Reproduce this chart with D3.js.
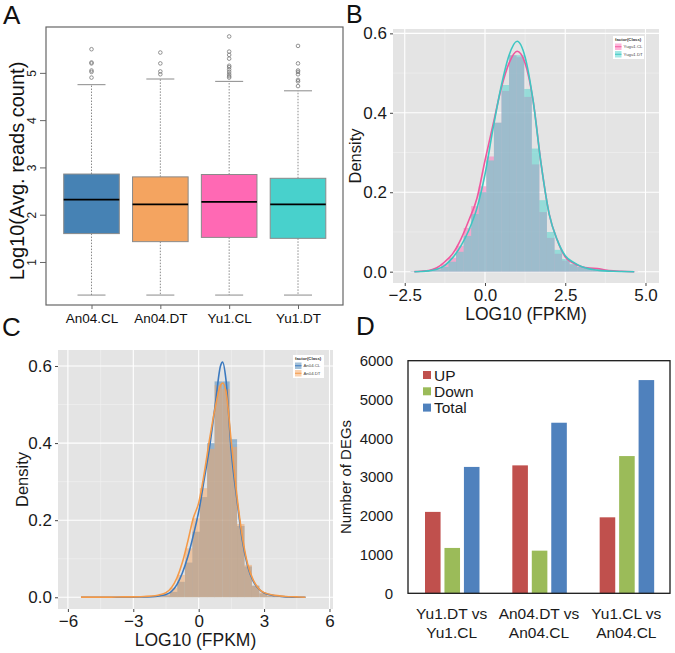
<!DOCTYPE html>
<html><head><meta charset="utf-8">
<script src="https://cdn.jsdelivr.net/npm/d3@7"></script>
<style>body{margin:0;background:#fff;} svg{display:block;font-family:Arial,"Liberation Sans",sans-serif;}</style>
</head><body><svg id="c" width="675" height="653"></svg>
<script>
// ---------- Panel A data (boxplot) ----------
const boxCategories = ["An04.CL","An04.DT","Yu1.CL","Yu1.DT"];
const boxLower  = [0.30, 0.30, 0.30, 0.30];
const boxQ1     = [1.60, 1.43, 1.52, 1.50];
const boxMedian = [2.32, 2.22, 2.27, 2.22];
const boxQ3     = [2.86, 2.80, 2.85, 2.77];
const boxUpper  = [4.75, 4.87, 4.82, 4.62];
const boxOutliers = [
  [4.90, 5.02, 5.05, 5.20, 5.22, 5.50],
  [4.97, 5.03, 5.20, 5.43],
  [4.90, 4.93, 4.97, 5.02, 5.07, 5.12, 5.15, 5.30, 5.38, 5.45, 5.77],
  [4.72, 4.82, 4.85, 4.97, 5.02, 5.05, 5.20, 5.57]
];
const boxTicks = [1, 2, 3, 4, 5];

// ---------- Panel B data (Yugu1 density) ----------
const bSeries = ["Yugu1.CL", "Yugu1.DT"];
const bBinWidth = 0.236;
const bBinCenters = [-2.2,-1.964,-1.728,-1.492,-1.256,-1.02,-0.784,-0.548,-0.312,-0.076,0.16,0.396,0.632,0.868,1.104,1.34,1.576,1.812,2.048,2.284,2.52,2.756,2.992,3.228,3.464,3.7,3.936,4.172,4.408,4.644];
const bHistCL = [0.001,0.002,0.003,0.008,0.02,0.035,0.065,0.11,0.165,0.215,0.29,0.375,0.455,0.545,0.54,0.44,0.27,0.15,0.085,0.045,0.028,0.018,0.012,0.009,0.008,0.004,0.002,0.001,0.001,0.0005];
const bHistDT = [0.001,0.001,0.002,0.005,0.012,0.025,0.05,0.09,0.145,0.2,0.28,0.375,0.47,0.545,0.545,0.46,0.31,0.18,0.1,0.055,0.032,0.02,0.012,0.007,0.004,0.003,0.002,0.001,0.0005,0.0003];
const bCurveX  = [-2.2,-2.0,-1.75,-1.5,-1.25,-1.0,-0.75,-0.5,-0.25,0,0.25,0.5,0.75,1.0,1.25,1.5,1.75,2.0,2.25,2.5,2.75,3.0,3.25,3.5,3.75,4.0,4.25,4.65];
const bCurveCL = [0,0.001,0.003,0.01,0.025,0.046,0.082,0.13,0.185,0.28,0.37,0.46,0.525,0.555,0.525,0.43,0.27,0.145,0.08,0.037,0.022,0.013,0.009,0.008,0.004,0.002,0.001,0];
const bCurveDT = [0,0.0005,0.002,0.006,0.016,0.036,0.065,0.105,0.16,0.245,0.36,0.465,0.545,0.58,0.54,0.43,0.27,0.145,0.08,0.04,0.024,0.013,0.007,0.004,0.002,0.001,0.0005,0];
const bXTicks = [-2.5, 0, 2.5, 5.0];
const bXMinor = [-1.25, 1.25, 3.75];
const densYTicks = [0, 0.2, 0.4, 0.6];
const densYMinor = [0.1, 0.3, 0.5];

// ---------- Panel C data (An04 density) ----------
const cSeries = ["An04.CL", "An04.DT"];
const cBinWidth = 0.342;
const cBinCenters = [-5.25,-4.91,-4.57,-4.22,-3.88,-3.54,-3.2,-2.86,-2.51,-2.17,-1.83,-1.49,-1.15,-0.81,-0.46,-0.12,0.22,0.56,0.9,1.25,1.59,1.93,2.27,2.61,2.96,3.3,3.64,3.98,4.32,4.67];
const cHistCL = [0,0,0,0,0,0,0.0005,0.0005,0.001,0.001,0.002,0.005,0.014,0.04,0.09,0.17,0.26,0.40,0.56,0.56,0.41,0.185,0.08,0.03,0.01,0.004,0.002,0.001,0,0];
const cHistDT = [0.001,0,0,0,0,0.0005,0.0005,0.001,0.001,0.002,0.004,0.008,0.025,0.058,0.127,0.205,0.283,0.385,0.55,0.54,0.39,0.19,0.084,0.03,0.012,0.005,0.003,0.002,0.001,0.001];
const cCurveX  = [-5.4,-5,-4.5,-4,-3.5,-3,-2.5,-2,-1.75,-1.5,-1.25,-1,-0.75,-0.5,-0.25,0,0.25,0.5,0.75,1,1.1,1.25,1.5,1.75,2,2.25,2.5,2.75,3,3.5,4,4.5,4.9];
const cCurveCL = [0,0,0,0,0,0.0005,0.001,0.002,0.004,0.007,0.015,0.033,0.063,0.105,0.16,0.222,0.305,0.39,0.495,0.6,0.61,0.565,0.375,0.255,0.148,0.08,0.042,0.022,0.011,0.004,0.001,0,0];
const cCurveDT = [0.0005,0.0005,0.0005,0.0005,0.001,0.001,0.002,0.004,0.007,0.012,0.025,0.05,0.09,0.145,0.205,0.245,0.32,0.41,0.49,0.55,0.556,0.535,0.40,0.265,0.158,0.085,0.045,0.023,0.012,0.005,0.002,0.001,0];
const cXTicks = [-6, -3, 0, 3, 6];
const cXMinor = [-4.5, -1.5, 1.5, 4.5];

// ---------- Panel D data (DEG bars) ----------
const degComparisons = ["Yu1.DT vs Yu1.CL", "An04.DT vs An04.CL", "Yu1.CL vs An04.CL"];
const degSeries = ["UP", "Down", "Total"];
const degUp    = [2100, 3300, 1960];
const degDown  = [1170, 1100, 3540];
const degTotal = [3260, 4400, 5500];
const degTicks = [0, 1000, 2000, 3000, 4000, 5000, 6000];

// ---------- styles ----------
const boxColors = ["#4682B4", "#F4A460", "#FF69B4", "#48D1CC"];
const bFill = ["#FF69B4", "#48D1CC"], bLine = ["#F0579E", "#3EC6C2"];
const cFill = ["#4682B4", "#F4A460"], cLine = ["#3B79BF", "#F59A48"];
const degColors = ["#C0504D", "#9BBB59", "#4F81BD"];

const svg = d3.select("#c");
const FONT = "Arial, 'Liberation Sans', sans-serif";

// ================= Panel A =================
(function(){
  const g = svg.append("g");
  const L = 46, R = 343, T = 27, B = 305;
  const x = d3.scalePoint().domain(boxCategories).range([91.5, 298]);
  const y = d3.scaleLinear().domain([0.09, 5.97]).range([B, T]);
  const half = 27.8, cap = 14;
  boxCategories.forEach((c, i) => {
    const cx = x(c);
    g.append("line").attr("x1", cx).attr("x2", cx).attr("y1", y(boxQ3[i])).attr("y2", y(boxUpper[i]))
      .attr("stroke", "#8a8a8a").attr("stroke-width", 1).attr("stroke-dasharray", "1.5,1.5");
    g.append("line").attr("x1", cx).attr("x2", cx).attr("y1", y(boxQ1[i])).attr("y2", y(boxLower[i]))
      .attr("stroke", "#8a8a8a").attr("stroke-width", 1).attr("stroke-dasharray", "1.5,1.5");
    [boxUpper[i], boxLower[i]].forEach(v => {
      g.append("line").attr("x1", cx - cap).attr("x2", cx + cap).attr("y1", y(v)).attr("y2", y(v))
        .attr("stroke", "#8a8a8a").attr("stroke-width", 1);
    });
    g.append("rect").attr("x", cx - half).attr("width", 2 * half)
      .attr("y", y(boxQ3[i])).attr("height", y(boxQ1[i]) - y(boxQ3[i]))
      .attr("fill", boxColors[i]).attr("stroke", "#8a8a8a").attr("stroke-width", 1);
    g.append("line").attr("x1", cx - half).attr("x2", cx + half).attr("y1", y(boxMedian[i])).attr("y2", y(boxMedian[i]))
      .attr("stroke", "#000").attr("stroke-width", 1.8);
    boxOutliers[i].forEach(v => {
      g.append("circle").attr("cx", cx).attr("cy", y(v)).attr("r", 1.8)
        .attr("fill", "none").attr("stroke", "#777").attr("stroke-width", 0.8);
    });
  });
  g.append("rect").attr("x", L).attr("y", T).attr("width", R - L).attr("height", B - T)
    .attr("fill", "none").attr("stroke", "#666").attr("stroke-width", 1.2);
  const ya = g.append("g").attr("transform", `translate(${L},0)`)
    .call(d3.axisLeft(y).tickValues(boxTicks).tickSize(6).tickFormat(d3.format("d")));
  ya.select(".domain").remove();
  ya.selectAll("line").attr("stroke", "#666");
  ya.selectAll("text").attr("x", 0).attr("dy", 0).attr("text-anchor", "middle")
    .attr("transform", "translate(-10,0) rotate(-90)")
    .style("font-size", "12px").style("font-family", FONT).attr("fill", "#222");
  const xa = g.append("g").attr("transform", `translate(0,${B})`)
    .call(d3.axisBottom(x).tickSize(4).tickPadding(4));
  xa.select(".domain").remove();
  xa.selectAll("line").attr("stroke", "#666");
  xa.selectAll("text").attr("dy", "0.71em").style("font-size", "13.5px").style("font-family", FONT).attr("fill", "#111");
  g.append("text").attr("transform", `translate(24,171) rotate(-90)`).attr("text-anchor", "middle")
    .style("font-size", "20px").attr("fill", "#111").text("Log10(Avg. reads count)");
  g.append("text").attr("x", 3).attr("y", 24).style("font-size", "26px").attr("fill", "#111").text("A");
})();

// ================= Density panels =================
function densityPanel(cfg) {
  const g = svg.append("g");
  const x = d3.scaleLinear().domain(cfg.xDomain).range([cfg.L, cfg.R]);
  const y = d3.scaleLinear().domain(cfg.yDomain).range([cfg.B, cfg.T]);
  g.append("rect").attr("x", cfg.L).attr("y", cfg.T).attr("width", cfg.R - cfg.L).attr("height", cfg.B - cfg.T).attr("fill", "#E4E4E4");
  cfg.xMinor.forEach(v => g.append("line").attr("x1", x(v)).attr("x2", x(v)).attr("y1", cfg.T).attr("y2", cfg.B).attr("stroke", "#F1F1F1").attr("stroke-width", 0.6));
  densYMinor.forEach(v => g.append("line").attr("y1", y(v)).attr("y2", y(v)).attr("x1", cfg.L).attr("x2", cfg.R).attr("stroke", "#F1F1F1").attr("stroke-width", 0.6));
  cfg.xTicks.forEach(v => g.append("line").attr("x1", x(v)).attr("x2", x(v)).attr("y1", cfg.T).attr("y2", cfg.B).attr("stroke", "#fff").attr("stroke-width", 1.1));
  densYTicks.forEach(v => g.append("line").attr("y1", y(v)).attr("y2", y(v)).attr("x1", cfg.L).attr("x2", cfg.R).attr("stroke", "#fff").attr("stroke-width", 1.1));
  cfg.hists.forEach((h, si) => {
    g.append("g").selectAll("rect").data(cfg.centers.map((c, k) => ({c, v: h[k]}))).join("rect")
      .attr("x", d => x(d.c - cfg.bw / 2)).attr("width", d => x(d.c + cfg.bw / 2) - x(d.c - cfg.bw / 2))
      .attr("y", d => y(d.v)).attr("height", d => y(0) - y(d.v))
      .attr("fill", cfg.fills[si]).attr("fill-opacity", 0.5);
  });
  const line = d3.line().x(d => x(d[0])).y(d => y(d[1])).curve(d3.curveMonotoneX);
  cfg.curves.forEach((cv, si) => {
    g.append("path").attr("d", line(cfg.curveX.map((v, k) => [v, cv[k]])))
      .attr("fill", "none").attr("stroke", cfg.lines[si]).attr("stroke-width", 1.6);
  });
  const xa = g.append("g").attr("transform", `translate(0,${cfg.B})`)
    .call(d3.axisBottom(x).tickValues(cfg.xTicks).tickSize(3).tickPadding(3).tickFormat(d3.format(cfg.xFmt)));
  xa.select(".domain").remove();
  xa.selectAll("line").attr("stroke", "#444");
  xa.selectAll("text").style("font-size", "17px").style("font-family", FONT).attr("fill", "#1a1a1a");
  const ya = g.append("g").attr("transform", `translate(${cfg.L},0)`)
    .call(d3.axisLeft(y).tickValues(densYTicks).tickSize(3).tickPadding(3).tickFormat(d3.format(".1f")));
  ya.select(".domain").remove();
  ya.selectAll("line").attr("stroke", "#444");
  ya.selectAll("text").style("font-size", "17px").style("font-family", FONT).attr("fill", "#1a1a1a");
  g.append("text").attr("x", (cfg.L + cfg.R) / 2 + cfg.xLabDx).attr("y", cfg.xLabY).attr("text-anchor", "middle")
    .style("font-size", "17.5px").attr("fill", "#1a1a1a").text("LOG10 (FPKM)");
  g.append("text").attr("transform", `translate(${cfg.yLabX},${(cfg.T + cfg.B) / 2}) rotate(-90)`).attr("text-anchor", "middle")
    .style("font-size", "16.5px").attr("fill", "#1a1a1a").text("Density");
  const lg = g.append("g").attr("transform", `translate(${cfg.legX},${cfg.legY})`);
  lg.append("rect").attr("width", 31).attr("height", 23).attr("fill", "#fff");
  lg.append("text").attr("x", 2).attr("y", 5).style("font-size", "4.3px").style("font-weight", "bold").attr("fill", "#333").text("factor(Class)");
  cfg.names.forEach((n, si) => {
    const yy = 7.5 + si * 7.5;
    lg.append("rect").attr("x", 2).attr("y", yy).attr("width", 6.5).attr("height", 6.5).attr("fill", cfg.fills[si]).attr("fill-opacity", 0.5);
    lg.append("line").attr("x1", 2).attr("x2", 8.5).attr("y1", yy + 3.25).attr("y2", yy + 3.25).attr("stroke", cfg.lines[si]).attr("stroke-width", 1);
    lg.append("text").attr("x", 10.5).attr("y", yy + 4.8).style("font-size", "4.3px").attr("fill", "#444").text(n);
  });
  g.append("text").attr("x", cfg.letX).attr("y", cfg.letY).style("font-size", cfg.letSize).attr("fill", "#111").text(cfg.letter);
}

densityPanel({
  L: 393, R: 659, T: 29, B: 283,
  xDomain: [-2.866, 5.421], yDomain: [-0.0285, 0.611],
  xTicks: bXTicks, xMinor: bXMinor, xFmt: ".1f",
  centers: bBinCenters, bw: bBinWidth, hists: [bHistCL, bHistDT],
  curveX: bCurveX, curves: [bCurveCL, bCurveDT],
  fills: bFill, lines: bLine, names: bSeries,
  xLabY: 320, xLabDx: 0, yLabX: 361,
  legX: 613, legY: 36, letter: "B", letX: 346, letY: 23, letSize: "25px"
});

densityPanel({
  L: 58, R: 333, T: 350, B: 609,
  xDomain: [-6.454, 6.161], yDomain: [-0.0304, 0.6415],
  xTicks: cXTicks, xMinor: cXMinor, xFmt: "d",
  centers: cBinCenters, bw: cBinWidth, hists: [cHistCL, cHistDT],
  curveX: cCurveX, curves: [cCurveCL, cCurveDT],
  fills: cFill, lines: cLine, names: cSeries,
  xLabY: 646, xLabDx: 0, yLabX: 28,
  legX: 293, legY: 355, letter: "C", letX: 2, letY: 336, letSize: "26px"
});

// ================= Panel D =================
(function(){
  const g = svg.append("g");
  const L = 408, R = 670, T = 360.7, B = 593.3;
  const x0 = d3.scaleBand().domain(degComparisons).range([L, R]).padding(0);
  const x1 = d3.scaleBand().domain(degSeries).range([17, 71.5]).paddingInner(0.2).paddingOuter(0);
  const y = d3.scaleLinear().domain([0, 6000]).range([B, T]);
  const vals = [degUp, degDown, degTotal];
  degComparisons.forEach((c, ci) => {
    degSeries.forEach((s, si) => {
      g.append("rect").attr("x", x0(c) + x1(s)).attr("width", x1.bandwidth())
        .attr("y", y(vals[si][ci])).attr("height", B - y(vals[si][ci]))
        .attr("fill", degColors[si]);
    });
  });
  g.append("rect").attr("x", L).attr("y", T).attr("width", R - L).attr("height", B - T)
    .attr("fill", "none").attr("stroke", "#1a1a1a").attr("stroke-width", 1.3);
  const ya = g.append("g").attr("transform", `translate(${L},0)`)
    .call(d3.axisLeft(y).tickValues(degTicks).tickSize(0).tickPadding(15).tickFormat(d3.format("d")));
  ya.select(".domain").remove();
  ya.selectAll("text").style("font-size", "15px").style("font-family", FONT).attr("fill", "#1a1a1a");
  degComparisons.forEach(c => {
    const parts = c.split(" vs ");
    const cx = x0(c) + x0.bandwidth() / 2;
    g.append("text").attr("x", cx).attr("y", 619).attr("text-anchor", "middle").style("font-size", "15.5px").attr("fill", "#1a1a1a").text(parts[0] + " vs");
    g.append("text").attr("x", cx).attr("y", 638).attr("text-anchor", "middle").style("font-size", "15.5px").attr("fill", "#1a1a1a").text(parts[1]);
  });
  g.append("text").attr("transform", `translate(351,477) rotate(-90)`).attr("text-anchor", "middle")
    .style("font-size", "15px").attr("fill", "#1a1a1a").text("Number of DEGs");
  degSeries.forEach((s, si) => {
    const yy = 375 + si * 16.3;
    g.append("rect").attr("x", 423).attr("y", yy - 4).attr("width", 8).attr("height", 8).attr("fill", degColors[si]);
    g.append("text").attr("x", 434).attr("y", yy + 5.5).style("font-size", "15.5px").attr("fill", "#1a1a1a").text(s);
  });
  g.append("text").attr("x", 356).attr("y", 335).style("font-size", "26px").attr("fill", "#111").text("D");
})();
</script></body></html>
